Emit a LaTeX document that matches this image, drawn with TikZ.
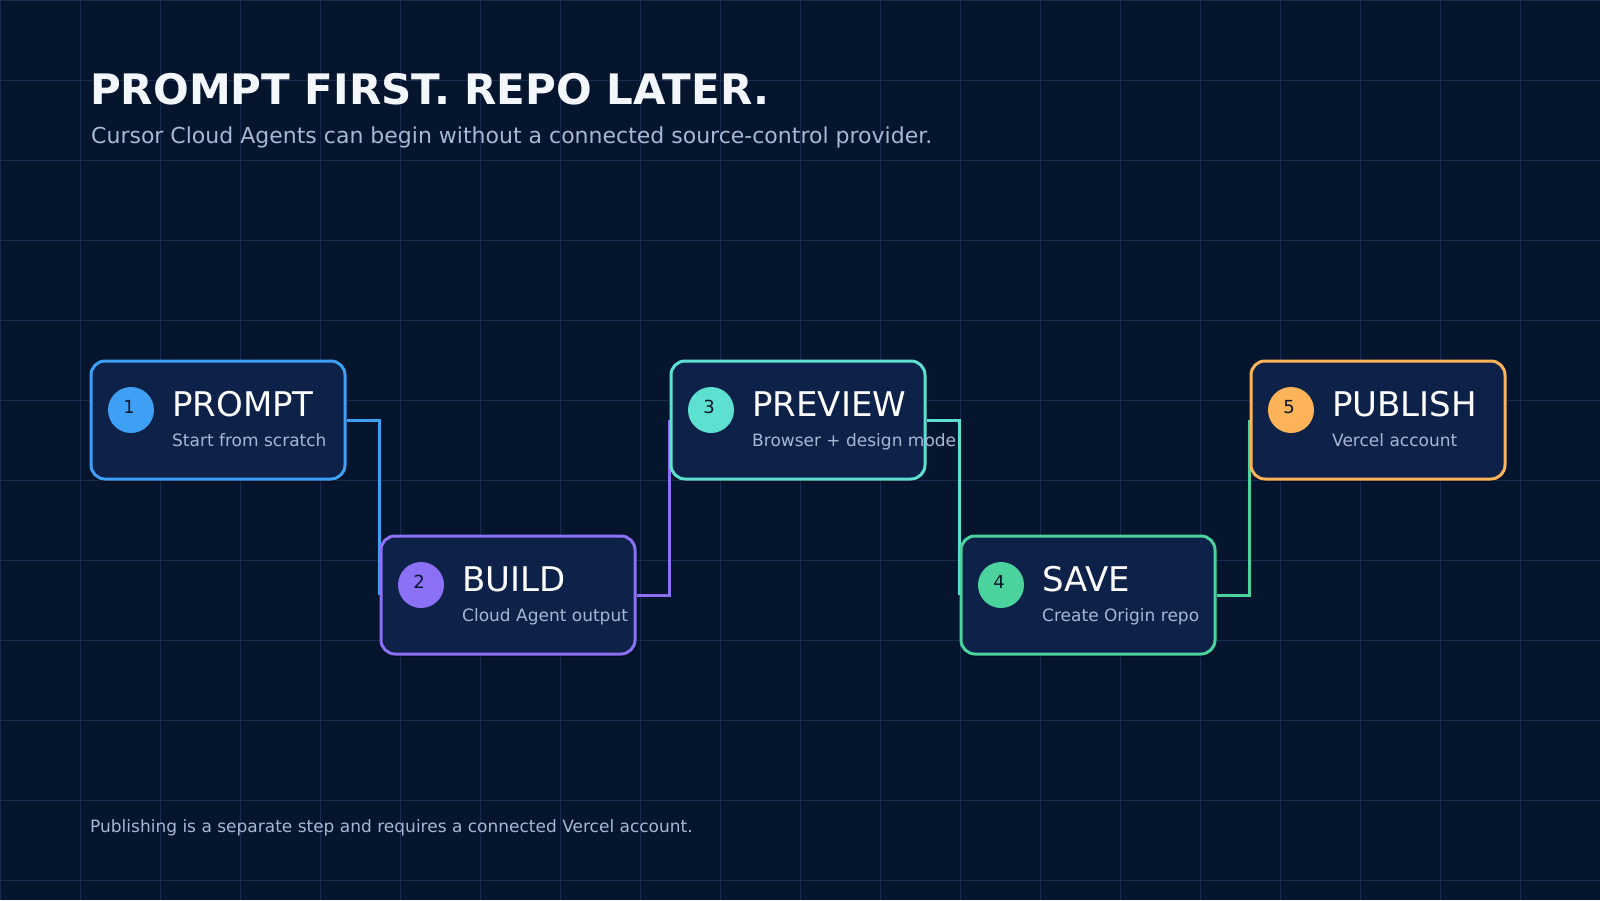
\documentclass[tikz,border=0pt]{standalone}
\usepackage{fontspec}
\setmainfont{DejaVu Sans}
\usepackage{tikz}
\usetikzlibrary{shadows}

\definecolor{bgnavy}{HTML}{06152E}
\definecolor{gridline}{HTML}{172C50}
\definecolor{boxfill}{HTML}{0E2148}
\definecolor{cblue}{HTML}{3DA0F5}
\definecolor{cpurple}{HTML}{8C70F6}
\definecolor{cteal}{HTML}{5EE0D0}
\definecolor{cgreen}{HTML}{4AD39C}
\definecolor{corange}{HTML}{FDB357}
\definecolor{headtext}{HTML}{F3F6FB}
\definecolor{softtext}{HTML}{A7B7D5}
\definecolor{digit}{HTML}{0A1530}

\pgfdeclarelayer{backdrop}
\pgfdeclarelayer{links}
\pgfsetlayers{backdrop,links,main}

\begin{document}
\begin{tikzpicture}[x=1pt, y=-1pt, % one unit is one pixel, y runs down
	stepbox/.style={draw=#1, fill=boxfill, line width=3pt, rounded corners=14pt,
		minimum width=254pt, minimum height=118pt, inner sep=0pt,
		drop shadow={shadow xshift=0pt, shadow yshift=-3pt, opacity=.35, fill=black}},
	badge/.style={circle, fill=#1, minimum size=46pt, inner sep=0pt},
	num/.style={inner sep=0pt, text=digit, font=\fontsize{18}{18}\selectfont},
	steptitle/.style={anchor=base west, inner sep=0pt, text=white, font=\fontsize{34}{34}\selectfont},
	stepnote/.style={anchor=base west, inner sep=0pt, text=softtext, font=\fontsize{17}{17}\selectfont},
	link/.style={draw=#1, line width=3pt}]

	\useasboundingbox (0,0) rectangle (1600,900);
	\begin{pgfonlayer}{backdrop}
		\fill[bgnavy] (0,0) rectangle (1600,900);
		\foreach \gx in {0,80,...,1600}
			\draw[gridline, line width=1pt] (\gx,0) -- (\gx,900);
		\foreach \gy in {0,80,...,880}
			\draw[gridline, line width=1pt] (0,\gy) -- (1600,\gy);
	\end{pgfonlayer}

	% heading
	\node[anchor=base west, inner sep=0pt, text=headtext, font=\bfseries\fontsize{42}{42}\selectfont] (head) at (90,104) {PROMPT FIRST. REPO LATER.};
	\node[anchor=base west, inner sep=0pt, text=softtext, font=\fontsize{22}{22}\selectfont] (sub) at (91,143) {Cursor Cloud Agents can begin without a connected source-control provider.};

	% steps
	\node[stepbox=cblue] (s1) at (218,420) {};
	\node[badge=cblue] (c1) at (131,410) {};
	\node[num] (n1) at (129,407) {1};
	\node[steptitle] (t1) at (172,416) {PROMPT};
	\node[stepnote] (d1) at (172,446) {Start from scratch};

	\node[stepbox=cpurple] (s2) at (508,595) {};
	\node[badge=cpurple] (c2) at (421,585) {};
	\node[num] (n2) at (419,582) {2};
	\node[steptitle] (t2) at (462,591) {BUILD};
	\node[stepnote] (d2) at (462,621) {Cloud Agent output};

	\node[stepbox=cteal] (s3) at (798,420) {};
	\node[badge=cteal] (c3) at (711,410) {};
	\node[num] (n3) at (709,407) {3};
	\node[steptitle] (t3) at (752,416) {PREVIEW};
	\node[stepnote] (d3) at (752,446) {Browser + design mode};

	\node[stepbox=cgreen] (s4) at (1088,595) {};
	\node[badge=cgreen] (c4) at (1001,585) {};
	\node[num] (n4) at (999,582) {4};
	\node[steptitle] (t4) at (1042,591) {SAVE};
	\node[stepnote] (d4) at (1042,621) {Create Origin repo};

	\node[stepbox=corange] (s5) at (1378,420) {};
	\node[badge=corange] (c5) at (1291,410) {};
	\node[num] (n5) at (1289,407) {5};
	\node[steptitle] (t5) at (1332,416) {PUBLISH};
	\node[stepnote] (d5) at (1332,446) {Vercel account};

	% connectors, kept under the boxes
	\begin{pgfonlayer}{links}
		\draw[link=cblue] (s1.east) -| (s2.west);
		\draw[link=cpurple] (s2.east) -| (s3.west);
		\draw[link=cteal] (s3.east) -| (s4.west);
		\draw[link=cgreen] (s4.east) -| (s5.west);
	\end{pgfonlayer}

	\node[anchor=base west, inner sep=0pt, text=softtext, font=\fontsize{17}{17}\selectfont] (foot) at (90,832) {Publishing is a separate step and requires a connected Vercel account.};

\end{tikzpicture}
\end{document}
